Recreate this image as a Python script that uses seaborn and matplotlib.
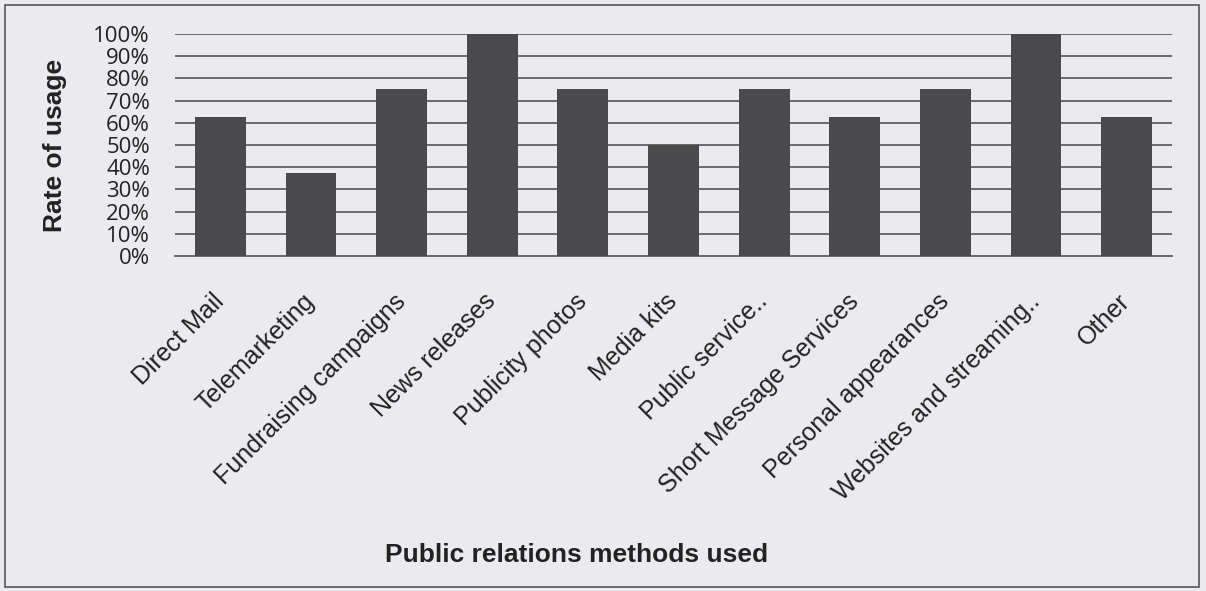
import pandas as pd
import matplotlib.pyplot as plt
import seaborn as sns
from matplotlib.patches import Rectangle

# data
methods = ['Direct Mail', 'Telemarketing', 'Fundraising campaigns', 'News releases',
           'Publicity photos', 'Media kits', 'Public service..', 'Short Message Services',
           'Personal appearances', 'Websites and streaming..', 'Other']
usage = [62.5, 37.5, 75, 100, 75, 50, 75, 62.5, 75, 100, 62.5]
y_ticks = list(range(0, 101, 10))
y_labels = [f'{t}%' for t in y_ticks]

df = pd.DataFrame({'method': methods, 'usage': usage})

sns.set_style('white')
plt.rcParams['font.family'] = ['Liberation Sans', 'DejaVu Sans']

bg = '#ebebef'
fig = plt.figure(figsize=(12.06, 5.91), dpi=100, facecolor=bg)
ax = fig.add_axes([175 / 1206, 1 - 256 / 591, 997 / 1206, 222 / 591])
ax.set_facecolor(bg)

sns.barplot(data=df, x='method', y='usage', color='#4a4a4c', width=0.56,
            saturation=1, linewidth=0, ax=ax, zorder=3)

ax.set_ylim(0, 100)
ax.set_xlim(-0.5, len(methods) - 0.5)
ax.set_yticks(y_ticks)
ax.set_yticklabels(y_labels, fontsize=16, color='#222222',
                   family=['Open Sans', 'DejaVu Sans'])
ax.tick_params(axis='y', length=0, pad=18)
ax.tick_params(axis='x', length=0, pad=30)
ax.yaxis.grid(True, color='#6a6a6a', linewidth=1.4, zorder=0)
for s in ['left', 'right', 'top']:
    ax.spines[s].set_visible(False)
ax.spines['bottom'].set_color('#6a6a6a')
ax.spines['bottom'].set_linewidth(1.4)

ax.set_xticks(range(len(methods)))
ax.set_xticklabels(methods, rotation=45, ha='right', va='center',
                   rotation_mode='anchor', fontsize=18, color='#222222')
ax.set_xlabel('')
ax.set_ylabel('')

fig.text(55 / 1206, 1 - 145 / 591, 'Rate of usage', rotation=90, ha='center',
         va='center', fontsize=19, fontweight='bold', color='#222222')
fig.text(577 / 1206, 1 - 555 / 591, 'Public relations methods used', ha='center',
         va='center', fontsize=19, fontweight='bold', color='#222222')

# frame around the chart
fig.patches.append(Rectangle((5 / 1206, 4 / 591), 1194 / 1206, 582 / 591,
                             transform=fig.transFigure, fill=False,
                             edgecolor='#555555', linewidth=1.2))

plt.savefig('out.png', dpi=100, facecolor=bg)
